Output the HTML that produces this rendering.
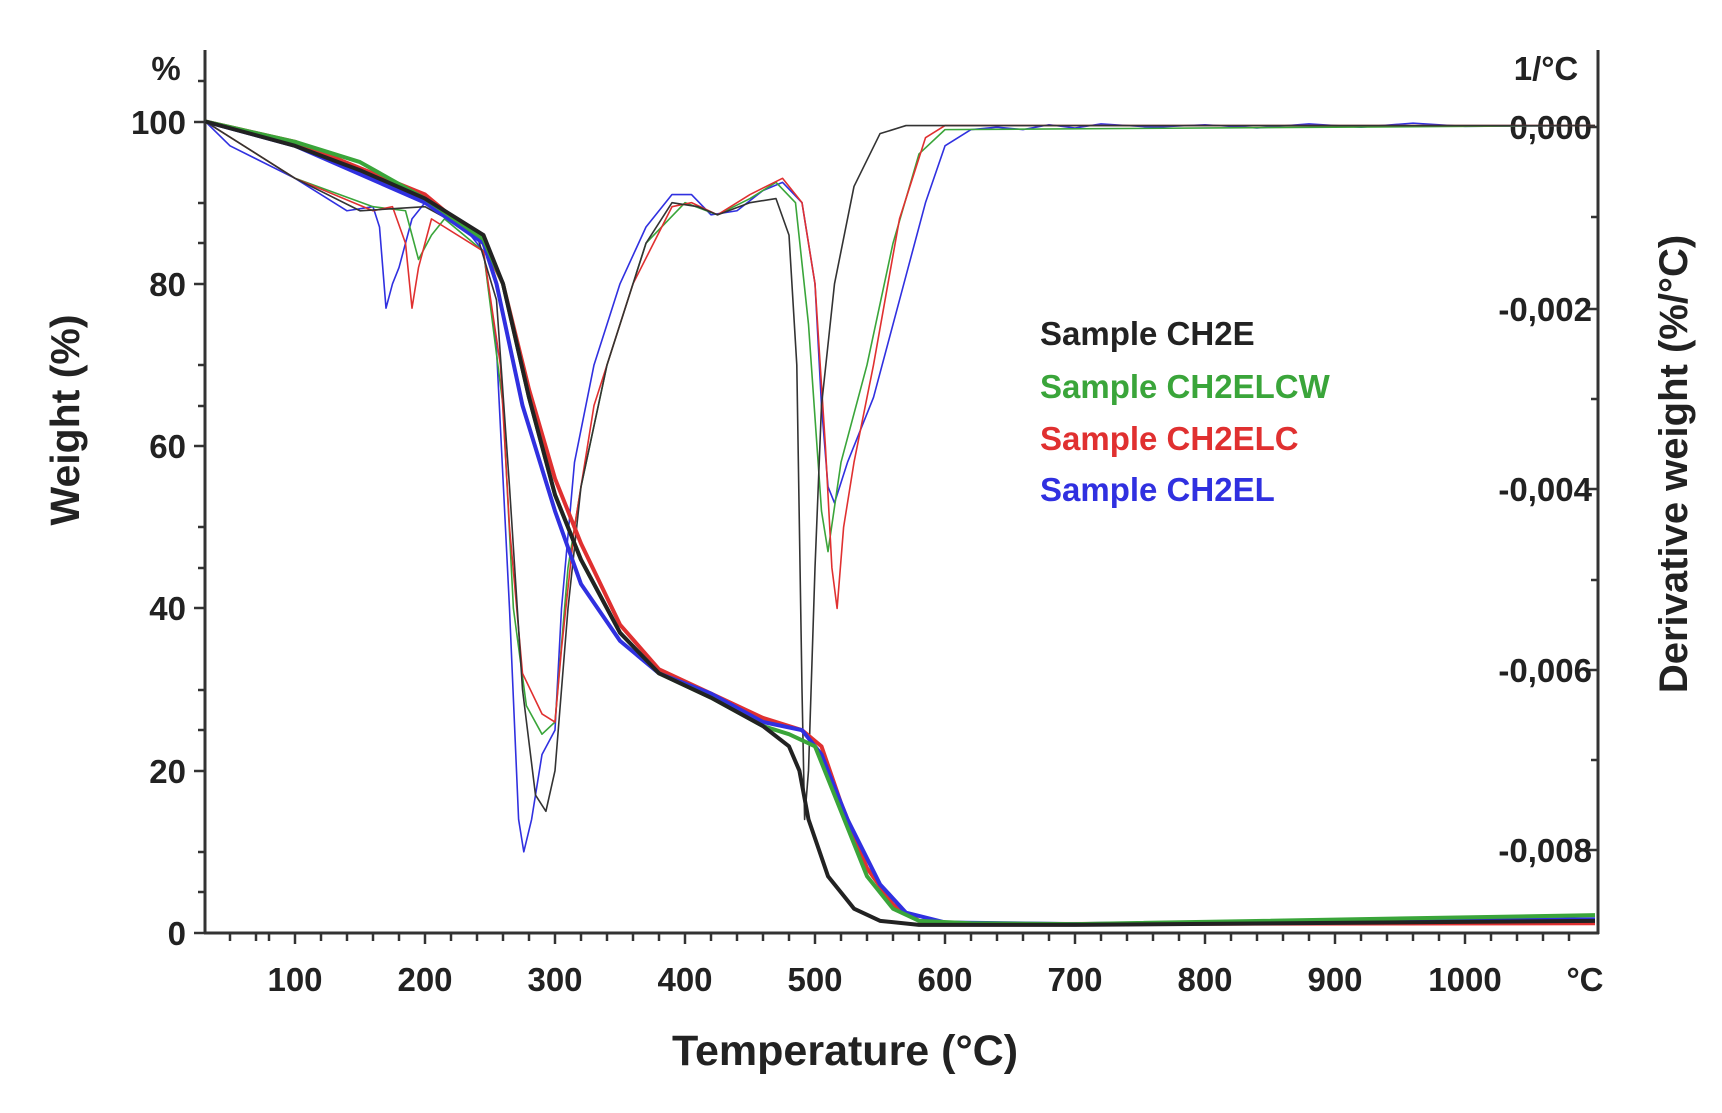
<!DOCTYPE html>
<html><head><meta charset="utf-8"><style>
body{margin:0;background:#fff}
svg{display:block}
text{font-family:"Liberation Sans",Arial,sans-serif;font-weight:bold;fill:#222}
</style></head><body>
<svg width="1722" height="1113" viewBox="0 0 1722 1113">
<g stroke="#333" stroke-width="3" fill="none">
<line x1="205" y1="50" x2="205" y2="934"/>
<line x1="1598" y1="50" x2="1598" y2="934"/>
<line x1="204" y1="933" x2="1599" y2="933"/>
</g>
<g stroke="#333" stroke-width="2.5">
<line x1="194" y1="933" x2="205" y2="933"/><line x1="198" y1="892" x2="205" y2="892"/>
<line x1="194" y1="771" x2="205" y2="771"/><line x1="198" y1="730" x2="205" y2="730"/>
<line x1="194" y1="608" x2="205" y2="608"/><line x1="198" y1="568" x2="205" y2="568"/>
<line x1="194" y1="446" x2="205" y2="446"/><line x1="198" y1="406" x2="205" y2="406"/>
<line x1="194" y1="284" x2="205" y2="284"/><line x1="198" y1="243" x2="205" y2="243"/>
<line x1="194" y1="122" x2="205" y2="122"/><line x1="198" y1="81" x2="205" y2="81"/>
<line x1="198" y1="852" x2="205" y2="852"/><line x1="198" y1="690" x2="205" y2="690"/>
<line x1="198" y1="527" x2="205" y2="527"/><line x1="198" y1="365" x2="205" y2="365"/>
<line x1="198" y1="203" x2="205" y2="203"/>
<line x1="1587" y1="127" x2="1598" y2="127"/><line x1="1591" y1="217" x2="1598" y2="217"/>
<line x1="1587" y1="309" x2="1598" y2="309"/><line x1="1591" y1="399" x2="1598" y2="399"/>
<line x1="1587" y1="489" x2="1598" y2="489"/><line x1="1591" y1="580" x2="1598" y2="580"/>
<line x1="1587" y1="670" x2="1598" y2="670"/><line x1="1591" y1="760" x2="1598" y2="760"/>
<line x1="1587" y1="850" x2="1598" y2="850"/>
</g>
<g stroke="#333" stroke-width="2.5">
<line x1="230" y1="933" x2="230" y2="941"/><line x1="256" y1="933" x2="256" y2="941"/><line x1="269" y1="933" x2="269" y2="941"/>
<line x1="295" y1="933" x2="295" y2="944"/><line x1="321" y1="933" x2="321" y2="941"/><line x1="347" y1="933" x2="347" y2="941"/><line x1="373" y1="933" x2="373" y2="941"/><line x1="399" y1="933" x2="399" y2="941"/>
<line x1="425" y1="933" x2="425" y2="944"/><line x1="451" y1="933" x2="451" y2="941"/><line x1="477" y1="933" x2="477" y2="941"/><line x1="503" y1="933" x2="503" y2="941"/><line x1="529" y1="933" x2="529" y2="941"/>
<line x1="555" y1="933" x2="555" y2="944"/><line x1="581" y1="933" x2="581" y2="941"/><line x1="607" y1="933" x2="607" y2="941"/><line x1="633" y1="933" x2="633" y2="941"/><line x1="659" y1="933" x2="659" y2="941"/>
<line x1="685" y1="933" x2="685" y2="944"/><line x1="711" y1="933" x2="711" y2="941"/><line x1="737" y1="933" x2="737" y2="941"/><line x1="763" y1="933" x2="763" y2="941"/><line x1="789" y1="933" x2="789" y2="941"/>
<line x1="815" y1="933" x2="815" y2="944"/><line x1="841" y1="933" x2="841" y2="941"/><line x1="867" y1="933" x2="867" y2="941"/><line x1="893" y1="933" x2="893" y2="941"/><line x1="919" y1="933" x2="919" y2="941"/>
<line x1="945" y1="933" x2="945" y2="944"/><line x1="971" y1="933" x2="971" y2="941"/><line x1="997" y1="933" x2="997" y2="941"/><line x1="1023" y1="933" x2="1023" y2="941"/><line x1="1049" y1="933" x2="1049" y2="941"/>
<line x1="1075" y1="933" x2="1075" y2="944"/><line x1="1101" y1="933" x2="1101" y2="941"/><line x1="1127" y1="933" x2="1127" y2="941"/><line x1="1153" y1="933" x2="1153" y2="941"/><line x1="1179" y1="933" x2="1179" y2="941"/>
<line x1="1205" y1="933" x2="1205" y2="944"/><line x1="1231" y1="933" x2="1231" y2="941"/><line x1="1257" y1="933" x2="1257" y2="941"/><line x1="1283" y1="933" x2="1283" y2="941"/><line x1="1309" y1="933" x2="1309" y2="941"/>
<line x1="1335" y1="933" x2="1335" y2="944"/><line x1="1361" y1="933" x2="1361" y2="941"/><line x1="1387" y1="933" x2="1387" y2="941"/><line x1="1413" y1="933" x2="1413" y2="941"/><line x1="1439" y1="933" x2="1439" y2="941"/>
<line x1="1465" y1="933" x2="1465" y2="944"/><line x1="1491" y1="933" x2="1491" y2="941"/><line x1="1517" y1="933" x2="1517" y2="941"/><line x1="1543" y1="933" x2="1543" y2="941"/><line x1="1569" y1="933" x2="1569" y2="941"/>
</g>
<g font-size="33">
<text x="166" y="80" text-anchor="middle">%</text>
<text x="1546" y="80" text-anchor="middle">1/°C</text>
<g text-anchor="end">
<text x="186" y="945">0</text><text x="186" y="783">20</text><text x="186" y="620">40</text>
<text x="186" y="458">60</text><text x="186" y="296">80</text><text x="186" y="134">100</text>
<text x="1592" y="139">0,000</text><text x="1592" y="321">-0,002</text><text x="1592" y="501">-0,004</text>
<text x="1592" y="682">-0,006</text><text x="1592" y="862">-0,008</text>
</g>
<g text-anchor="middle">
<text x="295" y="991">100</text><text x="425" y="991">200</text><text x="555" y="991">300</text>
<text x="685" y="991">400</text><text x="815" y="991">500</text><text x="945" y="991">600</text>
<text x="1075" y="991">700</text><text x="1205" y="991">800</text><text x="1335" y="991">900</text>
<text x="1465" y="991">1000</text><text x="1585" y="991">°C</text>
</g>
</g>
<text x="845" y="1065" font-size="43" text-anchor="middle">Temperature (°C)</text>
<text transform="translate(79,420) rotate(-90)" font-size="41" text-anchor="middle">Weight (%)</text>
<text transform="translate(1687,464) rotate(-90)" font-size="40" text-anchor="middle">Derivative weight (%/°C)</text>
<g font-size="33">
<text x="1040" y="345" style="fill:#222">Sample CH2E</text>
<text x="1040" y="398" style="fill:#3aa53a">Sample CH2ELCW</text>
<text x="1040" y="450" style="fill:#e03030">Sample CH2ELC</text>
<text x="1040" y="501" style="fill:#3030e0">Sample CH2EL</text>
</g>
<g transform="matrix(1.3 0 0 -8.115 165 933)" fill="none" stroke-linejoin="round">
<polyline vector-effect="non-scaling-stroke" stroke="#3030e0" stroke-width="1.6" points="31,100 50,97 100,93 140,89 160,89.5 165,87 170,77 175,80 180,82 190,88 200,90 230,87 245,84 255,72 265,40 272,14 276,10 282,14 290,22 300,25 305,40 315,58 330,70 350,80 370,87 390,91 405,91 420,88.5 440,89 460,91.5 475,92.5 490,90 500,80 505,65 510,55 515,53 525,58 545,66 565,78 585,90 600,97 620,99 640,99.3 660,99 680,99.6 700,99.2 720,99.7 760,99.3 800,99.6 840,99.2 880,99.7 920,99.3 960,99.8 1000,99.4 1100,99.5"/>
<polyline vector-effect="non-scaling-stroke" stroke="#3aa53a" stroke-width="1.6" points="31,100 100,93 160,89.5 185,89 195,83 205,86 215,88 245,84 260,65 268,40 278,28 290,24.5 300,26 310,45 320,55 340,70 370,85 400,90 425,88.5 450,90.5 470,92.5 485,90 495,75 505,52 510,47 520,58 540,70 560,85 580,96 600,99 1100,99.5"/>
<polyline vector-effect="non-scaling-stroke" stroke="#e03030" stroke-width="1.6" points="31,100 100,93 160,89 175,89.5 185,85 190,77 195,82 205,88 245,84 258,70 265,50 275,32 290,27 300,26 305,35 315,50 330,65 360,80 390,89.5 405,90 425,88.5 450,91 475,93 490,90 500,80 508,60 513,45 517,40 522,50 530,58 545,70 565,88 585,98 600,99.5 1100,99.5"/>
<polyline vector-effect="non-scaling-stroke" stroke="#333" stroke-width="1.6" points="31,100 100,93 150,89 200,89.5 240,86 255,78 265,55 275,30 285,17 293,15 300,20 310,40 320,55 340,70 370,85 390,90 410,89.5 425,88.5 450,90 470,90.5 480,86 486,70 490,30 492,14 495,20 500,45 505,65 515,80 530,92 550,98.5 570,99.5 1100,99.5"/>
<polyline vector-effect="non-scaling-stroke" stroke="#e03030" stroke-width="4" points="31,100 100,97.5 200,91 245,85 260,80 280,67 300,56 320,48 350,38 380,32.5 420,29.5 460,26.5 490,25 505,23 520,16 540,8 560,3.5 580,1.5 620,1.1 1100,1.2"/>
<polyline vector-effect="non-scaling-stroke" stroke="#3030e0" stroke-width="4" points="31,100 100,97 200,90 245,85 255,80 275,65 300,52 320,43 350,36 380,32 420,29.5 460,26 490,25 505,22 525,14 550,6 570,2.5 600,1.3 700,1.1 1100,1.7"/>
<polyline vector-effect="non-scaling-stroke" stroke="#3aa53a" stroke-width="4" points="31,100 100,97.5 150,95 200,90.5 245,85.5 260,80 280,66 300,54 320,46 350,37 380,32 420,29 460,25.5 480,24.5 500,23 520,15 540,7 560,3 580,1.5 620,1.2 700,1.1 1100,2.2"/>
<polyline vector-effect="non-scaling-stroke" stroke="#222" stroke-width="4" points="31,100 100,97 150,94 200,90.5 245,86 260,80 280,66 300,54 320,46 350,37 380,32 420,29 460,25.5 480,23 488,20 495,14 510,7 530,3 550,1.5 580,1 700,1 1100,1.5"/>
</g>
</svg>
</body></html>
